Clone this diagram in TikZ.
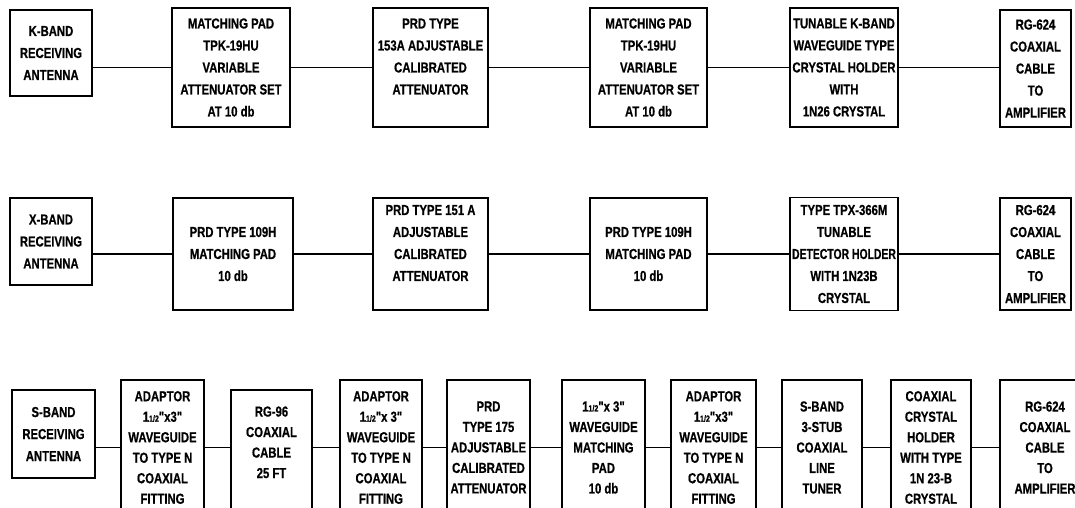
\documentclass[tikz,border=0pt]{standalone}
\usepackage{fontspec}
\newfontfamily\blkfont{Liberation Sans}[FakeStretch=0.78, FakeBold=0.6]
\tikzset{
	blk/.style={draw, line width=1.5pt, align=center, inner sep=0pt,
			font=\blkfont\bfseries\fontsize{14.5}{22}\selectfont},
	blks/.style={blk, font=\blkfont\bfseries\fontsize{14.5}{20.5}\selectfont},
	sz/.style 2 args={minimum width=#1pt, minimum height=#2pt},
	lnk/.style={line width=1.5pt}
}

\begin{document}
\begin{tikzpicture}[x=1pt, y=-1pt]
		\useasboundingbox (0,0) rectangle (1075,508);
		\fill[white] (0,0) rectangle (1075,508);
		% K-band chain
		\node[blk, sz={82}{86}] (ka) at (51,53) {K-BAND\\RECEIVING\\ANTENNA};
		\node[blk, sz={118}{119}] (kb) at (231,67.5) {MATCHING PAD\\TPK-19HU\\VARIABLE\\ATTENUATOR SET\\AT 10 db};
		\node[blk, sz={115}{119}] (kc) at (430.5,67.5) {PRD TYPE\\153A ADJUSTABLE\\CALIBRATED\\ATTENUATOR\\~};
		\node[blk, sz={117}{119}] (kd) at (648.5,67.5) {MATCHING PAD\\TPK-19HU\\VARIABLE\\ATTENUATOR SET\\AT 10 db};
		\node[blk, sz={108}{119}] (ke) at (844,67.5) {TUNABLE K-BAND\\WAVEGUIDE TYPE\\CRYSTAL HOLDER\\WITH\\1N26 CRYSTAL};
		\node[blk, sz={71}{117}] (kf) at (1035.5,68.5) {RG-624\\COAXIAL\\CABLE\\TO\\AMPLIFIER};
		\draw[lnk] (ka.east |- kb.west) -- (kb.west);
		\draw[lnk] (kb.east) -- (kc.west);
		\draw[lnk] (kc.east) -- (kd.west);
		\draw[lnk] (kd.east) -- (ke.west);
		\draw[lnk] (ke.east) -- (ke.east -| kf.west);
		% X-band chain
		\node[blk, sz={82}{87}] (xa) at (51,241.5) {X-BAND\\RECEIVING\\ANTENNA};
		\node[blk, sz={120}{112}] (xb) at (233,254) {PRD TYPE 109H\\MATCHING PAD\\10 db};
		\node[blk, sz={115}{112}] (xc) at (430.5,254) {PRD TYPE 151 A\\ADJUSTABLE\\CALIBRATED\\ATTENUATOR\\~};
		\node[blk, sz={117}{112}] (xd) at (648.5,254) {PRD TYPE 109H\\MATCHING PAD\\10 db};
		\node[blk, sz={108}{113}] (xe) at (844,254) {TYPE TPX-366M\\TUNABLE\\\scalebox{0.92}[1]{DETECTOR HOLDER}\\WITH 1N23B\\CRYSTAL};
		\node[blk, sz={71}{112}] (xf) at (1035.5,254) {RG-624\\COAXIAL\\CABLE\\TO\\AMPLIFIER};
		\draw[lnk] (xa.east |- xb.west) -- (xb.west);
		\draw[lnk] (xb.east) -- (xc.west);
		\draw[lnk] (xc.east) -- (xd.west);
		\draw[lnk] (xd.east) -- (xe.west);
		\draw[lnk] (xe.east) -- (xf.west);
		% S-band chain
		\node[blk, sz={83}{88}] (sa) at (53.5,434) {S-BAND\\RECEIVING\\ANTENNA};
		\node[blks, sz={83}{135}] (sb) at (162.5,447.5) {ADAPTOR\\1{\small1/2}"x3"\\WAVEGUIDE\\TO TYPE N\\COAXIAL\\FITTING};
		\node[blks, sz={81}{125}] (sc) at (271.5,452.5) {RG-96\\COAXIAL\\CABLE\\25 FT\\~};
		\node[blks, sz={82}{135}] (sd) at (381,447.5) {ADAPTOR\\1{\small1/2}"x 3"\\WAVEGUIDE\\TO TYPE N\\COAXIAL\\FITTING};
		\node[blks, sz={83}{135}] (se) at (488.5,447.5) {PRD\\TYPE 175\\ADJUSTABLE\\CALIBRATED\\ATTENUATOR};
		\node[blks, sz={83}{135}] (sf) at (603.5,447.5) {1{\small1/2}"x 3"\\WAVEGUIDE\\MATCHING\\PAD\\10 db};
		\node[blks, sz={85}{135}] (sg) at (713.5,447.5) {ADAPTOR\\1{\small1/2}"x3"\\WAVEGUIDE\\TO TYPE N\\COAXIAL\\FITTING};
		\node[blks, sz={80}{135}] (sh) at (822,447.5) {S-BAND\\3-STUB\\COAXIAL\\LINE\\TUNER};
		\node[blks, sz={80}{135}] (si) at (931,447.5) {COAXIAL\\CRYSTAL\\HOLDER\\WITH TYPE\\1N 23-B\\CRYSTAL};
		\node[blks, sz={90}{135}] (sj) at (1045,447.5) {RG-624\\COAXIAL\\CABLE\\TO\\AMPLIFIER};
		\draw[lnk] (sa.east |- sb.west) -- (sb.west);
		\draw[lnk] (sb.east) -- (sb.east -| sc.west);
		\draw[lnk] (sc.east |- sd.west) -- (sd.west);
		\draw[lnk] (sd.east) -- (se.west);
		\draw[lnk] (se.east) -- (sf.west);
		\draw[lnk] (sf.east) -- (sg.west);
		\draw[lnk] (sg.east) -- (sh.west);
		\draw[lnk] (sh.east) -- (si.west);
		\draw[lnk] (si.east) -- (sj.west);
	\end{tikzpicture}
\end{document}
